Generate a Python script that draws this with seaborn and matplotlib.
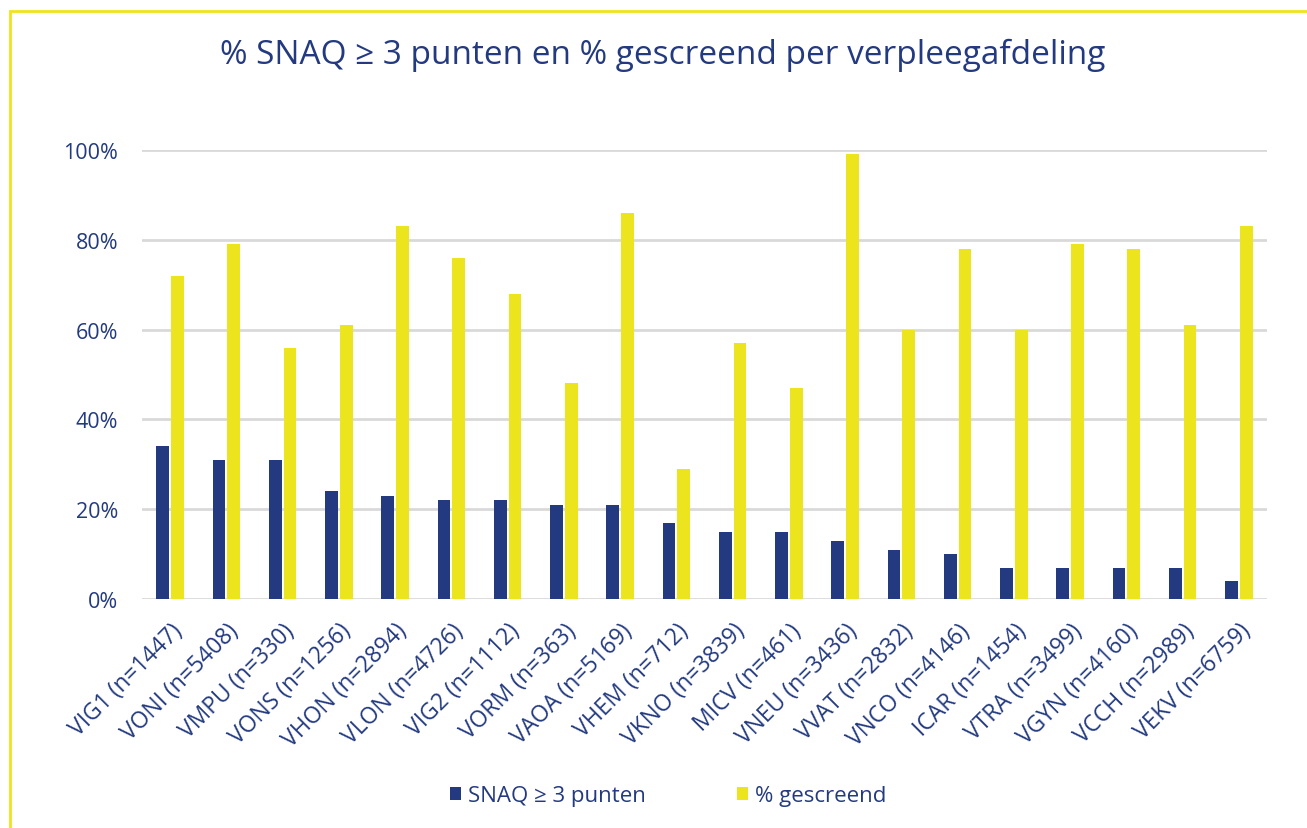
import matplotlib
matplotlib.use("Agg")
import matplotlib.pyplot as plt
import matplotlib.patches as mpatches
import seaborn as sns
import pandas as pd

afdelingen = ["VIG1 (n=1447)", "VONI (n=5408)", "VMPU (n=330)", "VONS (n=1256)", "VHON (n=2894)",
              "VLON (n=4726)", "VIG2 (n=1112)", "VORM (n=363)", "VAOA (n=5169)", "VHEM (n=712)",
              "VKNO (n=3839)", "MICV (n=461)", "VNEU (n=3436)", "VVAT (n=2832)", "VNCO (n=4146)",
              "ICAR (n=1454)", "VTRA (n=3499)", "VGYN (n=4160)", "VCCH (n=2989)", "VEKV (n=6759)"]
snaq = [34, 31, 31, 24, 23, 22, 22, 21, 21, 17, 15, 15, 13, 11, 10, 7, 7, 7, 7, 4]
gescreend = [72, 79, 56, 61, 83, 76, 68, 48, 86, 29, 57, 47, 99, 60, 78, 60, 79, 78, 61, 83]
series_names = ["SNAQ \u2265 3 punten", "% gescreend"]
yticks = [0, 20, 40, 60, 80, 100]
title = "% SNAQ \u2265 3 punten en % gescreend per verpleegafdeling"

NAVY = "#233A80"
YELLOW = "#ECE51E"
GRID = "#D9D9D9"

sns.set_theme(style="white")
plt.rcParams["font.family"] = ["Open Sans", "DejaVu Sans"]

df = pd.DataFrame({
    "afdeling": afdelingen * 2,
    "waarde": snaq + gescreend,
    "serie": [series_names[0]] * len(afdelingen) + [series_names[1]] * len(afdelingen),
})

fig = plt.figure(figsize=(13.07, 8.29), dpi=100)
ax = fig.add_axes([142 / 1307, 1 - 600 / 829, (1267 - 142) / 1307, (600 - 151) / 829])

sns.barplot(data=df, x="afdeling", y="waarde", hue="serie", palette=[NAVY, YELLOW],
            width=0.53, gap=0.14, ax=ax, legend=True, saturation=1, linewidth=0,
            edgecolor="none")

ax.set_ylim(0, 100)
ax.set_xlim(-0.5, len(afdelingen) - 0.5)
ax.set_yticks(yticks)
ax.set_yticklabels([f"{v}%" for v in yticks], color=NAVY, fontsize=15.5)
ax.yaxis.grid(True, color=GRID, linewidth=2)
ax.set_axisbelow(True)
for s in ax.spines.values():
    s.set_visible(False)
ax.tick_params(axis="both", length=0)
ax.tick_params(axis="y", pad=17)
ax.tick_params(axis="x", pad=14)
ax.set_xlabel("")
ax.set_ylabel("")
plt.setp(ax.get_xticklabels(), rotation=45, ha="right", rotation_mode="anchor",
         color=NAVY, fontsize=16.5)

handles, labels = ax.get_legend_handles_labels()
ax.get_legend().remove()
fig.legend(handles, labels, loc="center", bbox_to_anchor=(668 / 1307, 1 - 797 / 829),
           ncol=2, frameon=False, fontsize=16, labelcolor=NAVY, handlelength=0.5,
           handleheight=0.5, handletextpad=0.3, columnspacing=4.1)

fig.text(663 / 1307, 1 - 55 / 829, title, ha="center", va="center", color=NAVY, fontsize=24)

border = mpatches.Rectangle((10 / 1307, -0.2), 1.5, 1 - 12 / 829 + 0.2, transform=fig.transFigure,
                            fill=False, edgecolor=YELLOW, linewidth=2, clip_on=False)
fig.patches.append(border)

fig.savefig("out.png", dpi=100)
